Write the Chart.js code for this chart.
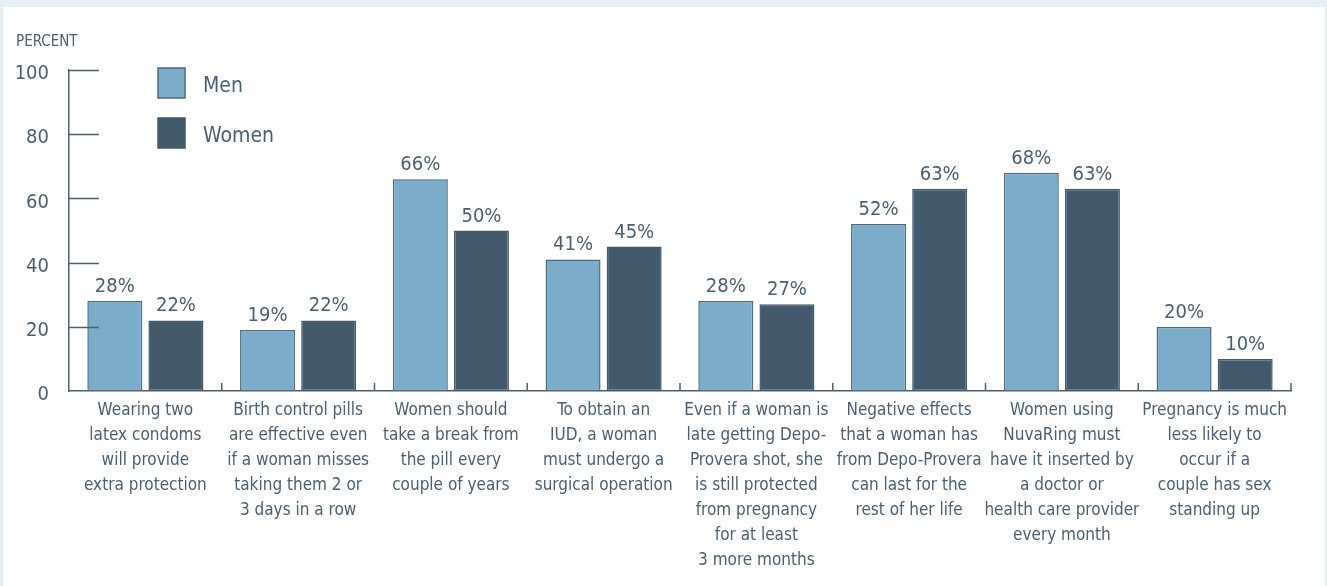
<!DOCTYPE html>
<html lang="en">
<head>
  <meta charset="UTF-8" />
  <title>Contraception myths – Men vs Women</title>
  <script src="https://cdn.jsdelivr.net/npm/chart.js"></script>
  <style>
    html, body { margin: 0; padding: 0; background: #e6eef6; width: 1327px; height: 586px; overflow: hidden; }
    #panel { position: absolute; left: 3px; top: 7px; width: 1322px; height: 579px; background: #fff; }
    canvas { display: block; }
  </style>
</head>
<body>
  <div id="panel">
    <canvas id="mythChart" width="1322" height="579"></canvas>
  </div>

  <script>
    // Statements (one array of lines per category)
    const categories = [
      ["Wearing two", "latex condoms", "will provide", "extra protection"],
      ["Birth control pills", "are effective even", "if a woman misses", "taking them 2 or", "3 days in a row"],
      ["Women should", "take a break from", "the pill every", "couple of years"],
      ["To obtain an", "IUD, a woman", "must undergo a", "surgical operation"],
      ["Even if a woman is", "late getting Depo-", "Provera shot, she", "is still protected", "from pregnancy", "for at least", "3 more months"],
      ["Negative effects", "that a woman has", "from Depo-Provera", "can last for the", "rest of her life"],
      ["Women using", "NuvaRing must", "have it inserted by", "a doctor or", "health care provider", "every month"],
      ["Pregnancy is much", "less likely to", "occur if a", "couple has sex", "standing up"]
    ];
    const menValues = [28, 19, 66, 41, 28, 52, 68, 20];
    const womenValues = [22, 22, 50, 45, 27, 63, 63, 10];
    const yTicks = [0, 20, 40, 60, 80, 100];

    const FONT = "'DejaVu Sans Condensed', 'DejaVu Sans', sans-serif";
    const TEXT = '#4a6072';
    const LINE = '#4a6175';

    // inward ticks on the y axis, small boundary ticks on the x axis,
    // value labels over bars, legend and axis caption
    const decorations = {
      id: 'decorations',
      afterDatasetsDraw(chart) {
        const { ctx, chartArea, scales: { x, y } } = chart;
        ctx.save();
        ctx.strokeStyle = LINE;
        ctx.lineWidth = 1.5;
        ctx.beginPath();
        yTicks.forEach(v => {
          if (v === 0) return;
          const py = Math.round(y.getPixelForValue(v)) + 0.5;
          ctx.moveTo(chartArea.left, py);
          ctx.lineTo(chartArea.left + 30, py);
        });
        for (let i = 1; i <= categories.length; i++) {
          const px = i < categories.length
            ? (x.getPixelForValue(i - 1) + x.getPixelForValue(i)) / 2
            : chartArea.right;
          ctx.moveTo(px, chartArea.bottom);
          ctx.lineTo(px, chartArea.bottom - 8);
        }
        ctx.stroke();

        // value labels
        ctx.fillStyle = TEXT;
        ctx.font = '20px ' + FONT;
        ctx.textAlign = 'center';
        ctx.textBaseline = 'alphabetic';
        chart.data.datasets.forEach((ds, di) => {
          chart.getDatasetMeta(di).data.forEach((bar, i) => {
            ctx.fillText(ds.data[i] + '%', bar.x, bar.y - 9);
          });
        });

        // legend
        ctx.textAlign = 'left';
        ctx.textBaseline = 'middle';
        ctx.font = '21px ' + FONT;
        chart.data.datasets.forEach((ds, di) => {
          const top = 61 + di * 50;
          ctx.fillStyle = ds.backgroundColor;
          ctx.fillRect(155, top, 27, 30);
          ctx.strokeStyle = ds.borderColor;
          ctx.lineWidth = 1.5;
          ctx.strokeRect(155, top, 27, 30);
          ctx.fillStyle = TEXT;
          ctx.fillText(ds.label, 200, top + 19);
        });

        // axis caption
        ctx.font = '15px ' + FONT;
        ctx.textBaseline = 'alphabetic';
        ctx.fillText('PERCENT', 13, 39);
        ctx.restore();
      }
    };

    new Chart(document.getElementById('mythChart').getContext('2d'), {
      type: 'bar',
      data: {
        labels: categories,
        datasets: [
          {
            label: 'Men',
            data: menValues,
            backgroundColor: '#7badcb',
            borderColor: '#4f6a7e',
            borderWidth: 1.5,
            borderSkipped: false
          },
          {
            label: 'Women',
            data: womenValues,
            backgroundColor: '#425a6b',
            borderColor: '#425a6b',
            borderWidth: 1.5,
            borderSkipped: false
          }
        ]
      },
      options: {
        responsive: false,
        animation: false,
        categoryPercentage: 0.8,
        barPercentage: 0.9,
        layout: { padding: { top: 63, right: 34, left: 0, bottom: 0 } },
        plugins: {
          legend: { display: false },
          tooltip: { enabled: false }
        },
        scales: {
          x: {
            grid: { display: false, drawTicks: false },
            border: { display: true, color: LINE, width: 1.5 },
            afterFit(scale) { scale.height = 195; },
            ticks: {
              autoSkip: false,
              maxRotation: 0,
              padding: 7,
              color: TEXT,
              font: { family: FONT, size: 17, lineHeight: 1.47 }
            }
          },
          y: {
            min: 0,
            max: 100,
            grid: { display: false, drawTicks: false },
            border: { display: true, color: LINE, width: 1.5 },
            afterFit(scale) { scale.width = 66; },
            afterBuildTicks(scale) { scale.ticks = yTicks.map(v => ({ value: v })); },
            ticks: {
              padding: 20,
              labelOffset: 4,
              color: TEXT,
              font: { family: FONT, size: 20 }
            }
          }
        }
      },
      plugins: [decorations]
    });
  </script>
</body>
</html>
